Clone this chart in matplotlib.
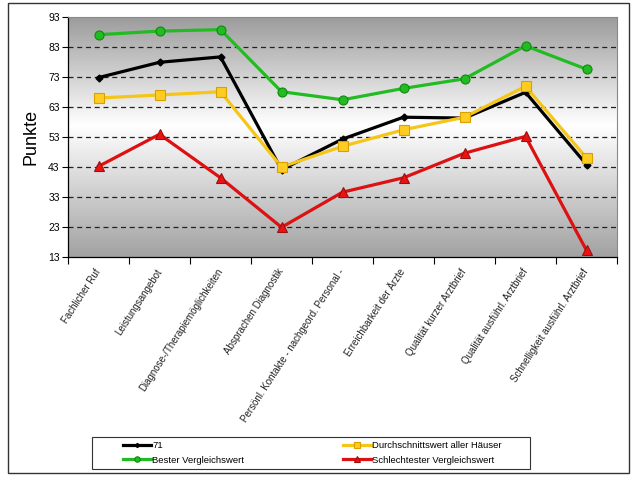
import matplotlib
matplotlib.use("Agg")
import matplotlib.pyplot as plt
import numpy as np
from matplotlib.colors import LinearSegmentedColormap
from matplotlib.patches import Rectangle

plt.rcParams['font.family'] = ['Liberation Sans', 'DejaVu Sans']

categories = ["Fachlicher Ruf", "Leistungsangebot", "Diagnose-/Therapiemöglichkeiten",
              "Absprachen Diagnostik", "Persönl. Kontakte - nachgeord. Personal -",
              "Erreichbarkeit der Ärzte", "Qualität kurzer Arztbrief",
              "Qualität ausführl. Arztbrief", "Schnelligkeit ausführl. Arztbrief"]
s71 = [72.8, 77.9, 79.7, 42.1, 52.3, 59.6, 59.3, 67.9, 43.8]
avg = [66.0, 67.0, 68.1, 43.0, 49.9, 55.4, 59.6, 69.9, 46.0]
best = [87.1, 88.3, 88.8, 68.1, 65.4, 69.2, 72.4, 83.4, 75.6]
worst = [43.2, 53.9, 39.4, 22.9, 34.6, 39.4, 47.6, 53.2, 15.2]
yticks = [13, 23, 33, 43, 53, 63, 73, 83, 93]

W, H = 640, 480
fig = plt.figure(figsize=(6.4, 4.8), dpi=100)
fig.patch.set_facecolor('white')

# outer frame
fig.add_artist(Rectangle((8 / W, 1 - 473 / H), (629 - 8) / W, (473 - 3) / H,
                         transform=fig.transFigure, fill=False, edgecolor='#333333', lw=1.0))
# legend frame
fig.add_artist(Rectangle((92 / W, 1 - 469 / H), (530 - 92) / W, (469 - 437) / H,
                         transform=fig.transFigure, fill=False, edgecolor='#333333', lw=0.8))

ax = fig.add_axes([68 / W, 1 - 257 / H, (617 - 68) / W, (257 - 17) / H])
x = np.arange(len(categories))
ax.set_xlim(-0.5, len(categories) - 0.5)
ax.set_ylim(13, 93)

# gradient background
cmap = LinearSegmentedColormap.from_list('g', [(0, '#9c9c9c'), (0.45, '#ffffff'), (1, '#a2a2a2')])
grad = np.linspace(0, 1, 256).reshape(-1, 1)
ax.imshow(grad, cmap=cmap, aspect='auto', extent=[0, 1, 0, 1],
          transform=ax.transAxes, zorder=0, origin='upper')

for v in yticks[1:-1]:
    ax.axhline(v, color='#222222', lw=0.9, ls=(0, (4, 3)), zorder=1)

lw = 2.3
hb, = ax.plot(x, best, color='#22bb22', lw=lw, marker='o', ms=6.5, mfc='#22bb22', mec='#118811',
              mew=0.8, zorder=3, label='Bester Vergleichswert')
h71, = ax.plot(x, s71, color='black', lw=lw, marker='D', ms=3.5, mfc='black', mec='black',
               zorder=4, label='71')
ha, = ax.plot(x, avg, color='#f5c518', lw=lw, marker='s', ms=6.5, mfc='#ffcc22', mec='#d9a000',
              mew=0.8, zorder=5, label='Durchschnittswert aller Häuser')
hw, = ax.plot(x, worst, color='#dd1111', lw=lw, marker='^', ms=7, mfc='#ee1111', mec='#991111',
              mew=0.8, zorder=3, label='Schlechtester Vergleichswert')

ax.set_yticks(yticks)
ax.set_yticklabels([str(t) for t in yticks], fontsize=7.5)
ax.tick_params(axis='y', length=4, width=0.8, direction='out', pad=2)

ax.set_xticks(np.arange(-0.5, len(categories), 1.0))
ax.set_xticklabels([])
ax.tick_params(axis='x', which='major', length=5, width=0.8, direction='out')
ax.set_xticks(x, minor=True)
ax.set_xticklabels(categories, minor=True, rotation=57, ha='right', va='center',
                   rotation_mode='anchor', fontsize=7, color='#222222')
ax.tick_params(axis='x', which='minor', length=0, pad=9)

ax.set_ylabel('Punkte', fontsize=13, labelpad=6)

for side in ['left', 'bottom']:
    ax.spines[side].set_color('black')
    ax.spines[side].set_linewidth(0.9)
for side in ['top', 'right']:
    ax.spines[side].set_color('#888888')
    ax.spines[side].set_linewidth(0.8)

legkw = dict(loc='upper left', fontsize=6.8, frameon=False, borderpad=0, borderaxespad=0,
             labelspacing=0.6, handlelength=3.0, handletextpad=0.1, markerscale=0.6)
fig.legend([h71, hb], ['71', 'Bester Vergleichswert'],
           bbox_to_anchor=(123 / W, 1 - 441 / H), **legkw)
fig.legend([ha, hw], ['Durchschnittswert aller Häuser', 'Schlechtester Vergleichswert'],
           bbox_to_anchor=(343 / W, 1 - 441 / H), **legkw)

fig.savefig('out.png', dpi=100)
